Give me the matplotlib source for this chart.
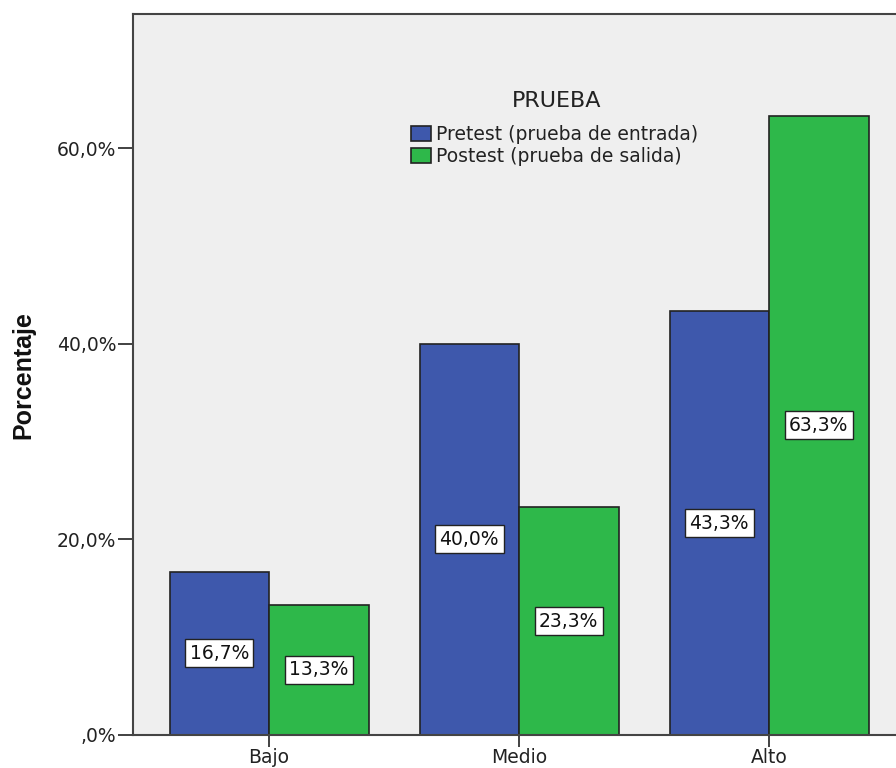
import matplotlib
matplotlib.use("Agg")
import matplotlib.pyplot as plt
import numpy as np

plt.rcParams["font.family"] = ["DejaVu Sans"]

categories = ["Bajo", "Medio", "Alto"]
pretest = [16.7, 40.0, 43.3]
postest = [13.3, 23.3, 63.3]
series_names = ["Pretest (prueba de entrada)", "Postest (prueba de salida)"]
legend_title = "PRUEBA"
yticks = [0, 20, 40, 60]
ytick_labels = [",0%", "20,0%", "40,0%", "60,0%"]

W, H = 896, 768
fig = plt.figure(figsize=(W / 100, H / 100), dpi=100)
ax = fig.add_axes([133 / W, 1 - 735 / H, (905 - 133) / W, (735 - 14) / H])
ax.set_facecolor("#EFEFEF")

x = np.arange(len(categories))
bw = 0.398
blue = "#3E58AC"
green = "#2EB84A"
b1 = ax.bar(x - bw / 2, pretest, bw, color=blue, edgecolor="#222222", linewidth=1.2, label=series_names[0])
b2 = ax.bar(x + bw / 2, postest, bw, color=green, edgecolor="#222222", linewidth=1.2, label=series_names[1])

fs = 13.5
for bars, vals in ((b1, pretest), (b2, postest)):
    for rect, v in zip(bars, vals):
        ax.text(rect.get_x() + rect.get_width() / 2, v / 2, f"{v:.1f}%".replace(".", ","),
                ha="center", va="center", fontsize=fs, color="#111111",
                bbox=dict(boxstyle="square,pad=0.24", facecolor="white", edgecolor="#222222", linewidth=1.0))

ax.set_xlim(-0.544, 2.544)
ax.set_ylim(0, 73.7)
ax.set_xticks(x)
ax.set_xticklabels(categories, fontsize=fs)
ax.set_yticks(yticks)
ax.set_yticklabels(ytick_labels, fontsize=fs)
ax.tick_params(axis="y", length=11, width=1.3, color="#333333", pad=1, labelcolor="#222222")
ax.tick_params(axis="x", length=8.5, width=1.3, color="#333333", pad=1, labelcolor="#222222")
for s in ("left", "bottom", "top", "right"):
    ax.spines[s].set_color("#444444")
    ax.spines[s].set_linewidth(1.5)

fig.text(23 / W, 1 - 375 / H, "Porcentaje", rotation=90, ha="center", va="center",
         fontsize=18, fontweight="bold", color="#111111",
         family=["Liberation Sans", "DejaVu Sans"])

fig.text(557 / W, 1 - 101 / H, legend_title, ha="center", va="center",
         fontsize=16, color="#222222")

leg = fig.legend(handles=[b1, b2], labels=series_names,
                 loc="upper left", bbox_to_anchor=(411 / W, 1 - 125 / H),
                 frameon=False, fontsize=fs, borderpad=0, borderaxespad=0,
                 handlelength=1.06, handleheight=0.9, handletextpad=0.25, labelspacing=0.16)
for t in leg.get_texts():
    t.set_color("#222222")

fig.savefig("out.png", dpi=100)
